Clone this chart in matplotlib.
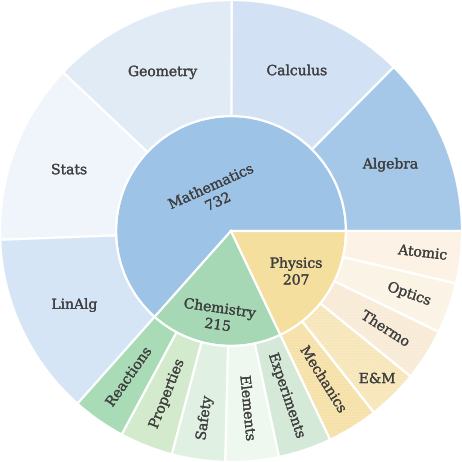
import matplotlib
matplotlib.use('Agg')
import matplotlib.pyplot as plt
import matplotlib.patheffects as pe
from matplotlib.patches import Wedge
import numpy as np

# inner ring
parents = ['Mathematics', 'Chemistry', 'Physics']
parent_vals = [732, 215, 207]
parent_colors = ['#9dc3e7', '#a6d8b5', '#f5df9f']

# outer ring, grouped by parent
children = ['Algebra', 'Calculus', 'Geometry', 'Stats', 'LinAlg',
            'Reactions', 'Properties', 'Safety', 'Elements', 'Experiments',
            'Mechanics', 'E&M', 'Thermo', 'Optics', 'Atomic']
child_vals = [145, 143, 150, 146, 148,
              43, 43, 43, 43, 43,
              41, 41, 42, 41, 42]
child_colors = ['#a5c8e8', '#d2e2f4', '#e1ebf6', '#eff5fb', '#d5e5f5',
                '#a9dbb6', '#d3ebcc', '#e0f1e3', '#eef8ef', '#d4e9d8',
                '#f5dfa3', '#f7e5b6', '#f8ead4', '#fbf3e3', '#fcf1e2']
child_parent = [0] * 5 + [1] * 5 + [2] * 5

# label layout (orientation: h horizontal, r radial, t tangential)
parent_orient = ['t', 't', 'h']
parent_lab_r = [40, 87, 77]
child_orient = ['h'] * 5 + ['r'] * 5 + ['r', 'h', 'r', 'r', 'r']
child_lab_r = [173, 173, 173, 173, 173,
               178, 175, 189, 178, 174,
               175, 208, 183, 189, 193]

R_OUT = 231.0
R_IN = 115.0
TXT = '#3e3e3e'
FONT = 'DejaVu Serif'
FS = 10

fig = plt.figure(figsize=(4.62, 4.62), dpi=100)
ax = fig.add_axes([0, 0, 1, 1])

edge = dict(edgecolor='white', linewidth=1.6)
w_in, _ = ax.pie(parent_vals, radius=R_IN / R_OUT, colors=parent_colors,
                 startangle=0, counterclock=True, wedgeprops=edge)
w_out, _ = ax.pie(child_vals, radius=1.0, colors=child_colors,
                  startangle=0, counterclock=True,
                  wedgeprops=dict(width=(R_OUT - R_IN) / R_OUT, **edge))

# faint dot texture on the physics leaves
for w, p in zip(w_out, child_parent):
    if p == 2:
        w.set_hatch('......')
        w.set_edgecolor((1, 1, 1, 0.3))
        w.set_linewidth(0)
        ax.add_patch(Wedge(w.center, w.r, w.theta1, w.theta2, width=w.width,
                           facecolor='none', edgecolor='white', linewidth=1.6))


def rotation(theta, mode):
    if mode == 'h':
        return 0
    rot = theta - 90 if mode == 't' else theta
    rot = (rot + 180) % 360 - 180
    if rot > 90:
        rot -= 180
    elif rot < -90:
        rot += 180
    return rot


heavy = [pe.withStroke(linewidth=0.15, foreground=TXT)]


def place(wedges, labels, orients, radii):
    for w, lab, o, r in zip(wedges, labels, orients, radii):
        th = 0.5 * (w.theta1 + w.theta2)
        x = r / R_OUT * np.cos(np.radians(th))
        y = r / R_OUT * np.sin(np.radians(th))
        ax.text(x, y, lab, ha='center', va='center', rotation=rotation(th, o),
                rotation_mode='anchor', fontsize=FS, color=TXT, family=FONT,
                linespacing=1.25, path_effects=heavy)


place(w_in, ['%s\n%d' % (n, v) for n, v in zip(parents, parent_vals)],
      parent_orient, parent_lab_r)
place(w_out, children, child_orient, child_lab_r)

ax.set_xlim(-1, 1)
ax.set_ylim(-1, 1)
ax.set_aspect('equal')
ax.axis('off')
fig.savefig('out.png', dpi=100, facecolor='white')
